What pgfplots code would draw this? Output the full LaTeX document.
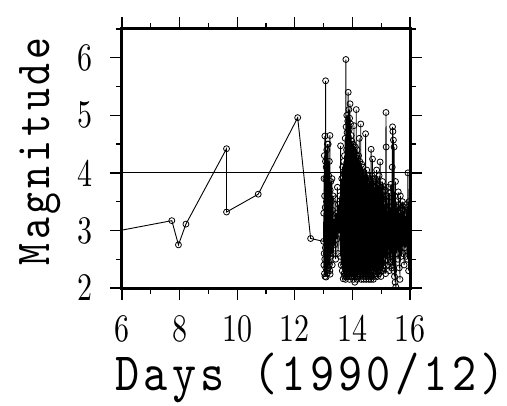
\documentclass[border=0pt]{standalone}
\usepackage{fontspec}
\usepackage{pgfplots}
\pgfplotsset{compat=1.18}
\usepackage{pgfplotstable}

% condensed serif digits for the tick labels, narrow monospace for the axis titles
\newfontfamily\tickfont{lmroman10-regular.otf}[FakeStretch=0.77]
\newfontfamily\labfont{lmmono10-regular.otf}[FakeStretch=0.85,LetterSpace=8]

% early events (sparse) followed by the dense swarm
\pgfplotstableread{
x y
5.20 2.93
7.73 3.17
7.96 2.75
8.22 3.11
9.63 4.42
9.63 3.32
10.73 3.63
12.10 4.96
12.55 2.86
13.000 2.81
13.005 3.30
13.010 2.40
13.015 3.90
13.020 2.60
13.025 4.30
13.030 2.25
13.035 3.60
13.040 2.50
13.045 4.64
13.050 2.20
13.055 3.40
13.060 2.70
13.065 4.20
13.070 5.60
13.075 2.35
13.080 3.90
13.085 2.19
13.090 4.10
13.095 2.60
13.100 3.50
13.105 2.30
13.110 4.40
13.115 2.85
13.120 3.70
13.125 2.25
13.130 4.50
13.135 2.55
13.140 3.30
13.145 2.70
13.150 3.80
13.155 2.35
13.160 4.50
13.165 2.90
13.170 3.45
13.175 2.45
13.180 3.95
13.185 2.65
13.190 3.60
13.195 2.40
13.200 4.20
13.205 2.80
13.210 3.40
13.215 2.30
13.220 4.65
13.225 2.24
13.230 3.70
13.235 2.90
13.240 3.30
13.245 2.55
13.250 3.85
13.260 2.60
13.270 3.50
13.280 2.75
13.290 3.90
13.300 2.40
13.310 3.35
13.320 2.85
13.330 3.60
13.340 2.60
13.36 3.20
13.38 2.75
13.40 3.55
13.42 2.50
13.44 3.30
13.46 2.85
13.48 3.75
13.50 2.60
13.52 3.45
13.54 2.95
13.56 3.60
13.58 2.55
13.59 4.47
13.61 2.40
13.63 3.90
13.65 2.30
13.66 4.10
13.68 2.16
13.690 3.80
13.694 2.40
13.698 4.20
13.702 2.90
13.706 3.60
13.710 2.25
13.714 4.00
13.718 2.70
13.722 3.40
13.726 4.30
13.730 2.20
13.734 3.95
13.738 2.55
13.742 3.30
13.746 2.35
13.750 4.60
13.754 2.80
13.758 3.70
13.762 2.15
13.766 4.10
13.770 2.45
13.774 5.97
13.778 2.30
13.782 4.80
13.786 2.65
13.790 3.50
13.794 2.20
13.798 4.40
13.802 2.95
13.806 5.00
13.810 2.35
13.814 4.70
13.818 2.60
13.822 3.60
13.826 2.20
13.830 4.20
13.834 2.85
13.838 4.90
13.842 2.40
13.846 3.80
13.850 2.25
13.854 5.40
13.858 2.70
13.862 4.60
13.866 2.30
13.870 3.90
13.874 2.55
13.878 5.10
13.882 2.20
13.886 4.75
13.890 2.90
13.894 4.30
13.898 2.15
13.902 4.95
13.906 2.60
13.910 3.70
13.914 2.35
13.918 5.20
13.922 2.80
13.926 4.50
13.930 2.25
13.934 4.85
13.938 2.50
13.942 3.90
13.946 2.20
13.950 4.30
13.954 2.75
13.958 4.65
13.962 2.35
13.966 3.60
13.970 2.45
13.974 4.10
13.978 2.90
13.982 4.55
13.986 2.20
13.990 3.80
13.994 2.60
13.998 4.00
14.002 2.30
14.006 4.40
14.010 2.85
14.014 3.55
14.018 2.25
14.022 4.50
14.026 2.45
14.030 3.85
14.034 2.15
14.038 4.20
14.042 2.70
14.046 3.90
14.050 2.35
14.054 4.82
14.058 2.55
14.062 3.75
14.066 2.20
14.070 4.35
14.074 2.90
14.078 3.60
14.082 2.10
14.086 4.10
14.090 2.65
14.094 3.95
14.098 2.30
14.102 4.45
14.106 2.75
14.110 3.50
14.114 2.25
14.118 4.15
14.122 2.50
14.126 3.80
14.130 2.35
14.134 5.10
14.138 2.60
14.142 4.30
14.146 2.20
14.150 3.70
14.154 2.85
14.158 4.05
14.162 2.15
14.166 4.40
14.170 2.55
14.174 3.65
14.178 2.30
14.182 4.25
14.186 2.70
14.190 3.90
14.194 2.20
14.198 4.10
14.202 2.45
14.206 3.85
14.210 2.35
14.214 4.30
14.218 2.80
14.222 3.55
14.226 2.25
14.230 3.85
14.234 2.60
14.238 4.60
14.242 2.30
14.246 3.95
14.250 2.50
14.254 4.20
14.258 2.90
14.262 3.60
14.266 2.20
14.270 4.05
14.274 2.65
14.278 3.80
14.282 2.35
14.286 3.30
14.290 4.85
14.294 2.55
14.298 3.70
14.302 2.15
14.306 4.00
14.310 2.75
14.314 3.85
14.318 2.30
14.322 4.15
14.326 2.45
14.330 3.55
14.334 2.25
14.338 3.95
14.342 2.85
14.346 3.68
14.350 2.35
14.354 3.75
14.358 2.60
14.362 4.10
14.366 2.20
14.370 3.60
14.374 2.70
14.378 3.90
14.382 2.40
14.386 3.50
14.390 2.15
14.394 4.00
14.398 2.55
14.402 3.70
14.406 2.30
14.410 3.85
14.414 2.65
14.418 3.45
14.422 2.25
14.426 3.95
14.430 2.50
14.434 3.65
14.438 2.35
14.442 3.80
14.446 2.80
14.450 3.40
14.454 2.20
14.458 4.68
14.462 2.60
14.466 3.55
14.470 2.40
14.474 3.90
14.478 2.15
14.482 3.50
14.486 2.65
14.490 3.75
14.494 2.30
14.498 4.05
14.502 2.55
14.506 3.45
14.510 2.25
14.514 3.85
14.518 2.70
14.522 3.60
14.526 2.35
14.530 3.95
14.534 2.50
14.538 3.40
14.542 2.20
14.546 3.70
14.550 2.60
14.554 3.55
14.558 2.30
14.562 3.80
14.566 2.45
14.570 3.35
14.574 2.15
14.578 3.90
14.582 2.65
14.586 3.50
14.590 2.35
14.594 3.75
14.598 2.55
14.602 3.45
14.606 2.25
14.610 3.65
14.614 2.70
14.618 3.85
14.622 2.40
14.626 3.30
14.630 2.20
14.634 3.60
14.638 2.50
14.642 3.40
14.646 2.15
14.650 4.41
14.656 2.35
14.662 3.80
14.668 2.50
14.674 3.40
14.680 2.20
14.686 3.95
14.692 2.60
14.698 4.24
14.704 2.30
14.710 3.65
14.716 2.45
14.722 3.90
14.728 2.15
14.734 3.55
14.740 2.65
14.746 3.85
14.752 2.30
14.758 3.45
14.764 2.50
14.770 3.75
14.776 2.20
14.782 3.60
14.788 2.70
14.794 3.90
14.800 2.35
14.806 3.50
14.812 2.55
14.818 3.70
14.824 2.25
14.830 3.85
14.836 2.60
14.842 4.05
14.848 2.35
14.854 3.45
14.860 2.80
14.866 3.65
14.872 2.20
14.878 3.80
14.884 2.50
14.890 3.40
14.896 2.30
14.902 3.70
14.908 2.65
14.914 3.55
14.920 2.25
14.926 3.95
14.932 2.45
14.938 3.60
14.944 2.30
14.950 3.80
14.956 2.55
14.962 4.19
14.968 2.35
14.974 3.50
14.980 2.70
14.986 3.75
14.992 2.20
14.998 3.45
15.004 2.60
15.010 3.75
15.016 2.30
15.022 3.55
15.028 2.45
15.034 3.40
15.040 2.75
15.046 3.85
15.052 2.30
15.058 3.60
15.064 2.50
15.070 3.30
15.076 2.35
15.082 3.55
15.088 2.60
15.094 3.76
15.106 2.40
15.118 3.45
15.130 2.60
15.142 3.70
15.154 2.25
15.166 5.05
15.172 4.45
15.178 2.50
15.190 3.60
15.202 2.80
15.214 3.35
15.226 2.40
15.238 3.75
15.250 2.65
15.262 3.50
15.274 2.30
15.286 3.65
15.298 2.85
15.310 3.40
15.322 2.45
15.334 3.80
15.346 2.60
15.358 3.30
15.370 2.35
15.382 4.10
15.394 4.80
15.400 2.55
15.406 4.72
15.412 2.40
15.424 4.57
15.436 2.30
15.448 4.45
15.460 2.20
15.472 3.60
15.484 2.10
15.496 3.85
15.508 2.02
15.520 3.50
15.532 2.60
15.544 3.40
15.556 2.75
15.568 3.25
15.580 2.50
15.592 3.67
15.604 2.90
15.616 3.45
15.628 2.35
15.640 3.30
15.652 2.15
15.664 3.60
15.676 2.80
15.688 3.40
15.700 2.55
15.712 3.20
15.724 2.95
15.736 3.50
15.748 2.60
15.760 3.35
15.772 2.85
15.784 3.10
15.796 2.40
15.808 3.40
15.820 2.70
15.832 3.25
15.844 2.90
15.856 3.45
15.868 2.55
15.880 3.15
15.892 2.95
15.904 3.40
15.916 2.50
15.928 4.00
15.940 3.20
15.952 2.30
15.964 3.50
15.976 2.75
15.990 3.10
16.005 2.90
}\quakes

\begin{document}
\begin{tikzpicture}
\begin{axis}[
  scale only axis,
  width=288bp, height=259bp,
  xmin=6, xmax=16, ymin=2, ymax=6.5,
  xtick={6,8,10,12,14,16},
  minor xtick={7,9,11,13,15},
  ytick={2,3,4,5,6},
  minor ytick={2.5,3.5,4.5,5.5,6.5},
  tick align=outside,
  major tick length=12bp,
  minor tick length=6bp,
  every tick/.style={black, line width=1.3bp},
  axis line style={line width=3bp},
  /pgf/number format/assume math mode=true,
  ticklabel style={font=\tickfont\fontsize{39bp}{44bp}\selectfont},
  xticklabel style={yshift=-12bp},
  yticklabel style={xshift=-14bp},
  xlabel={Days (1990/12)},
  ylabel={Magnitude},
  xlabel style={font=\labfont\fontsize{54bp}{60bp}\selectfont,
    at={(axis description cs:0.653,-0.347)}, anchor=center},
  ylabel style={font=\labfont\fontsize{49bp}{56bp}\selectfont,
    at={(axis description cs:-0.285,0.527)}, anchor=center},
  clip marker paths=true,
]
\addplot[black, line width=0.8bp] coordinates {(6,4) (16,4)};
\addplot[black, line width=0.9bp, mark=o,
  mark options={line width=0.8bp, scale=1.5}] table {\quakes};
\end{axis}
\pgfresetboundingbox
\path (-122bp,-118bp) rectangle (385bp,288bp);
\end{tikzpicture}
\end{document}
